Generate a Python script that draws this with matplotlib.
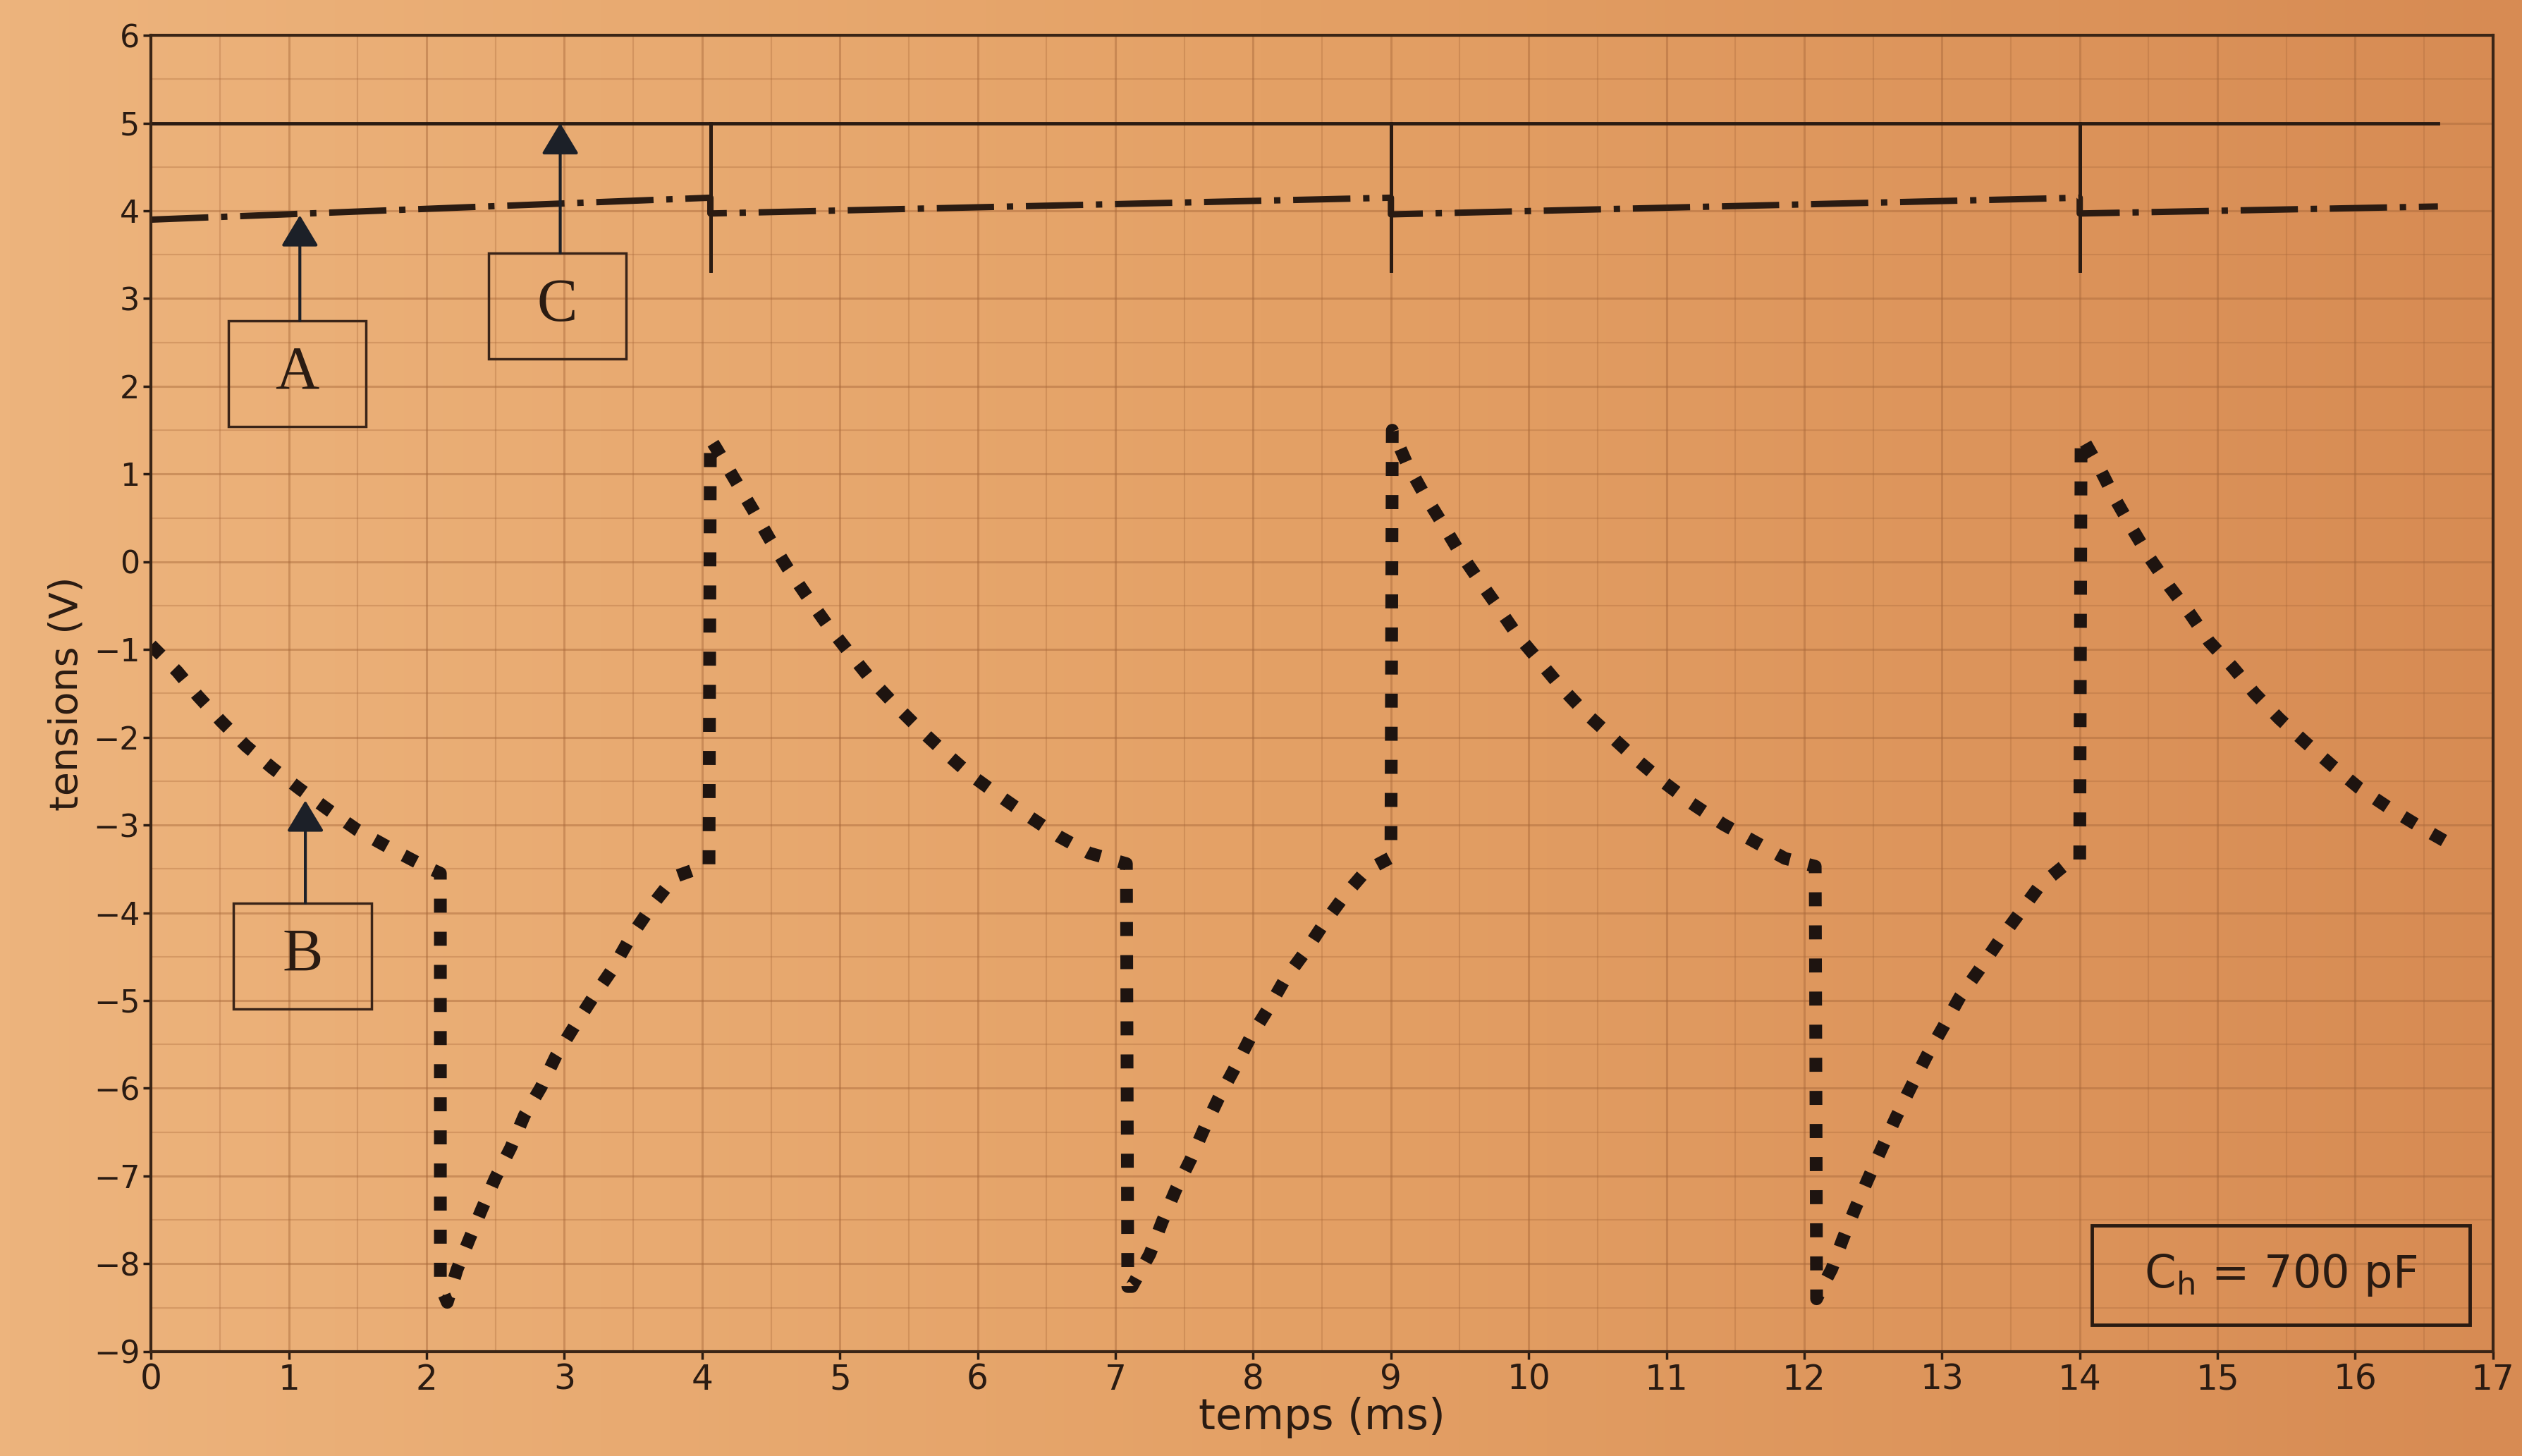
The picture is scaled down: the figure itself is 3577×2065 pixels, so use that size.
import numpy as np
import matplotlib
matplotlib.use("Agg")
import matplotlib.pyplot as plt
from matplotlib.colors import LinearSegmentedColormap
from matplotlib.patches import Rectangle

# tension A (trait mixte) : valeurs
a_t = [0.0, 4.06, 4.06, 9.0, 9.0, 14.0, 14.0, 16.6]
a_v = [3.90, 4.15, 3.97, 4.15, 3.96, 4.15, 3.97, 4.05]

# tension C (trait plein) : 5 V avec les pointes de commutation
c_t = [0.0, 4.06, 4.06, 4.06, 9.0, 9.0, 9.0, 14.0, 14.0, 14.0, 16.6]
c_v = [5.0, 5.0, 3.3, 5.0, 5.0, 3.3, 5.0, 5.0, 3.3, 5.0, 5.0]

# tension B (pointilles)
b_t = [0.00, 0.19, 0.34, 0.51, 0.69, 0.88, 1.08, 1.29, 1.50, 1.73, 1.96, 2.10,
       2.10, 2.15, 2.22, 2.31, 2.40, 2.50, 2.61, 2.71, 2.83, 2.94, 3.07, 3.21,
       3.35, 3.48, 3.64, 3.80, 4.05,
       4.06, 4.10, 4.24, 4.37, 4.49, 4.62, 4.76, 4.90, 5.06, 5.22, 5.40, 5.58,
       5.76, 5.95, 6.17, 6.38, 6.59, 6.81, 7.08,
       7.09, 7.12, 7.25, 7.34, 7.44, 7.55, 7.65, 7.75, 7.87, 7.98, 8.11, 8.23,
       8.38, 8.51, 8.66, 8.82, 9.00,
       9.01, 9.11, 9.23, 9.36, 9.49, 9.63, 9.77, 9.91, 10.07, 10.23, 10.41,
       10.60, 10.78, 10.97, 11.18, 11.41, 11.64, 11.86, 12.08,
       12.09, 12.12, 12.20, 12.28, 12.37, 12.47, 12.57, 12.67, 12.78, 12.89,
       13.01, 13.13, 13.27, 13.41, 13.56, 13.71, 13.89, 14.00,
       14.01, 14.02, 14.15, 14.26, 14.38, 14.51, 14.65, 14.80, 14.94, 15.11,
       15.27, 15.45, 15.64, 15.83, 16.03, 16.25, 16.48, 16.67]
b_v = [-0.95, -1.25, -1.53, -1.82, -2.10, -2.35, -2.59, -2.83, -3.06, -3.26, -3.45, -3.55,
       -8.25, -8.44, -8.07, -7.72, -7.38, -7.02, -6.68, -6.31, -5.99, -5.63, -5.30, -4.96,
       -4.64, -4.28, -3.91, -3.59, -3.45,
       1.40, 1.30, 0.93, 0.59, 0.26, -0.07, -0.39, -0.70, -1.02, -1.33, -1.63, -1.91,
       -2.17, -2.43, -2.68, -2.91, -3.13, -3.32, -3.44,
       -8.26, -8.26, -7.89, -7.52, -7.15, -6.80, -6.44, -6.11, -5.76, -5.42, -5.09, -4.76,
       -4.44, -4.13, -3.81, -3.52, -3.37,
       1.50, 1.14, 0.80, 0.47, 0.13, -0.19, -0.50, -0.82, -1.12, -1.42, -1.72,
       -1.99, -2.25, -2.50, -2.75, -2.99, -3.19, -3.38, -3.47,
       -8.40, -8.30, -8.06, -7.72, -7.37, -7.01, -6.66, -6.32, -5.97, -5.63,
       -5.30, -4.96, -4.65, -4.33, -4.01, -3.69, -3.46, -3.40,
       1.42, 1.41, 1.05, 0.71, 0.38, 0.04, -0.28, -0.59, -0.91, -1.20,
       -1.50, -1.79, -2.06, -2.32, -2.58, -2.81, -3.03, -3.20]

x_ticks = list(range(0, 18))
y_ticks = list(range(-9, 7))

ink = "#2a1b12"

fig = plt.figure(figsize=(35.77, 20.65), dpi=100)

# fond papier (photo) : degrade orange
bg = fig.add_axes([0, 0, 1, 1], zorder=-10)
paper = LinearSegmentedColormap.from_list("paper", ["#EDB47D", "#E4A166", "#D78B53"])
bg.imshow(np.linspace(0, 1, 256)[None, :], cmap=paper, aspect="auto", extent=[0, 1, 0, 1])
bg.axis("off")

ax = fig.add_axes([0.0599, 0.0718, 0.9286, 0.9039])
ax.set_zorder(1)
ax.patch.set_alpha(0)

ax.set_xlim(0, 17)
ax.set_ylim(-9, 6)
ax.set_xticks(x_ticks)
ax.set_yticks(y_ticks)
ax.set_xticks(np.arange(0, 17.01, 0.5), minor=True)
ax.set_yticks(np.arange(-9, 6.01, 0.5), minor=True)
ax.grid(which="major", color="#A8683A", lw=2.2, alpha=0.45)
ax.grid(which="minor", color="#A8683A", lw=1.5, alpha=0.32)
ax.set_axisbelow(True)

ax.tick_params(which="major", colors=ink, length=8, width=2.5, direction="out")
ax.tick_params(axis="x", labelsize=35)
ax.tick_params(axis="y", labelsize=32)
ax.tick_params(which="minor", length=0)
for s in ax.spines.values():
    s.set_linewidth(3)
    s.set_color("#3a2516")

# courbes
ax.plot(c_t, c_v, color=ink, lw=3.5, solid_joinstyle="miter")
ax.plot(a_t, a_v, color=ink, lw=6.5, linestyle=(0, (9, 2, 1, 2)))
ax.plot(b_t, b_v, color="#1e1410", lw=13, linestyle=(0, (1.1, 1.5)), dash_capstyle="butt")

ax.set_xlabel("temps (ms)", fontsize=44, color=ink, labelpad=0)
ax.set_ylabel("tensions (V)", fontsize=40, color=ink, labelpad=8)

# etiquettes A, B, C avec fleches
arrow_kw = dict(arrowstyle="-|>,head_length=0.5,head_width=0.3", color="#1c2028",
                lw=3, mutation_scale=55, shrinkA=0, shrinkB=0)
boxes = [("A", 0.56, 1.54, 2.75, 3.95), ("C", 2.45, 2.31, 3.52, 5.0), ("B", 0.60, -5.10, -3.89, -2.72)]
for lab, x0, y0, ytop, ytip in boxes:
    w = 1.0
    ax.add_patch(Rectangle((x0, y0), w, ytop - y0, fill=False, ec="#3a2418", lw=2.5, zorder=5))
    ax.text(x0 + w / 2, (y0 + ytop) / 2, lab, family="Liberation Serif", fontsize=62,
            color=ink, ha="center", va="center", zorder=6)
    ax.annotate("", xy=(x0 + w / 2 + 0.02, ytip), xytext=(x0 + w / 2 + 0.02, ytop),
                arrowprops=arrow_kw, zorder=6)

ax.add_patch(Rectangle((14.09, -8.70), 2.74, 1.14, fill=False, ec=ink, lw=3.5, zorder=5))
ax.text(15.46, -8.13, r"C$_\mathregular{h}$ = 700 pF", fontsize=46, color=ink,
        ha="center", va="center", zorder=6)

fig.savefig("out.png", dpi=100)
